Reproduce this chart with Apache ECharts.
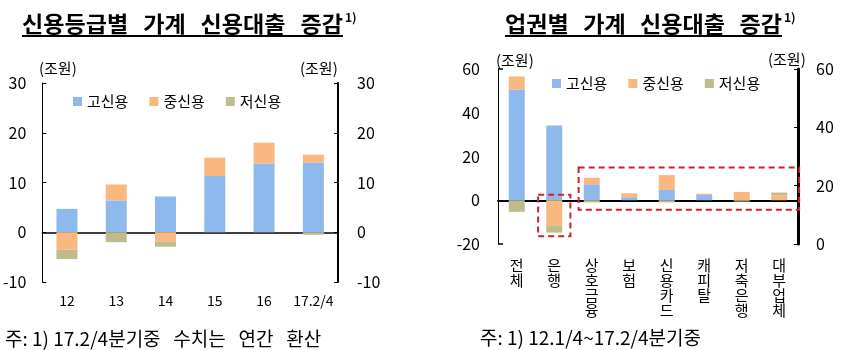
<!DOCTYPE html>
<html>
<head>
<meta charset="utf-8">
<script src="https://cdn.jsdelivr.net/npm/echarts@6/dist/echarts.min.js"></script>
<style>
  html, body { margin: 0; padding: 0; background: #fff; }
  #chart { width: 843px; height: 350px; }
</style>
</head>
<body>
<div id="chart"></div>
<script>
// Left panel: household credit loans by credit grade (trillion won)
const years = ['12', '13', '14', '15', '16', '17.2/4'];
const highByYear = [4.7, 6.4, 7.2, 11.3, 13.8, 14.0];
const midByYear = [-3.5, 3.2, -1.9, 3.7, 4.2, 1.6];
const lowByYear = [-1.9, -2.0, -1.0, 0, 0, -0.5];

// Right panel: household credit loans by financial sector (trillion won)
const sectors = ['전체', '은행', '상호금융', '보험', '신용카드', '캐피탈', '저축은행', '대부업체'];
const highBySector = [50.6, 34.2, 7.3, 1.4, 4.7, 2.4, 0, 0];
const midBySector = [6.0, -11.8, 3.0, 1.8, 6.8, 0.6, 3.8, 2.3];
const lowBySector = [-5.3, -3.0, -1.0, 0, -1.0, 0, -0.6, 1.2];

const seriesNames = ['고신용', '중신용', '저신용'];

// Dashed highlight frames on the right panel: category span and value span
const frameSectors = [['은행', '은행'], ['상호금융', '대부업체']];
const frameValues = [[2.5, -16.5], [15, -4.3]];

const FONT = '"Noto Sans CJK KR", "Noto Sans", sans-serif';
const COLORS = ['#8DB9EC', '#F8B880', '#BEBC8C'];

const chart = echarts.init(document.getElementById('chart'), null, { renderer: 'canvas' });

function valueAxis(grid, pos, min, max, step, lineW, tickOn, labelMargin) {
  return {
    type: 'value', gridIndex: grid, position: pos, min: min, max: max, interval: step,
    axisLine: { show: true, lineStyle: { color: '#000', width: lineW } },
    axisTick: { show: tickOn, inside: true, length: 4, lineStyle: { color: '#000', width: 1 } },
    axisLabel: { fontSize: 16, color: '#000', fontFamily: FONT, margin: labelMargin },
    splitLine: { show: false }
  };
}

function barSeries(name, data, xi, yi, stack, width, color) {
  return {
    type: 'bar', name: name, data: data, xAxisIndex: xi, yAxisIndex: yi,
    stack: stack, barWidth: width, itemStyle: { color: color }, silent: true
  };
}

function legend(left, top, gap) {
  return {
    left: left, top: top, padding: 0, itemGap: gap, itemWidth: 9, itemHeight: 9,
    icon: 'rect', data: seriesNames, selectedMode: false,
    textStyle: { fontSize: 15, color: '#000', fontFamily: FONT }
  };
}

const option = {
  backgroundColor: '#fff',
  animation: false,
  grid: [
    { left: 38, top: 83, width: 300, height: 199 },
    { left: 498, top: 69, width: 300, height: 175 }
  ],
  legend: [legend(73, 94, 21), legend(552, 76, 21)],
  xAxis: [
    { type: 'category', gridIndex: 0, data: years, position: 'bottom',
      axisLine: { show: false, onZero: false }, axisTick: { show: false },
      axisLabel: { interval: 0, fontSize: 14, color: '#000', fontFamily: FONT, margin: 12 } },
    { type: 'category', gridIndex: 1, data: sectors, position: 'bottom',
      axisLine: { show: false, onZero: false }, axisTick: { show: false },
      axisLabel: { interval: 0, fontSize: 15, color: '#000', fontFamily: FONT, margin: 14, lineHeight: 15,
        formatter: v => v.split('').join('\n') } },
    // zero baselines
    { type: 'category', gridIndex: 0, data: years, position: 'top',
      axisLine: { show: true, onZero: true, onZeroAxisIndex: 0, lineStyle: { color: '#000', width: 1.5 } },
      axisTick: { show: false }, axisLabel: { show: false } },
    { type: 'category', gridIndex: 1, data: sectors, position: 'top',
      axisLine: { show: true, onZero: true, onZeroAxisIndex: 2, lineStyle: { color: '#000', width: 2 } },
      axisTick: { show: false }, axisLabel: { show: false } }
  ],
  yAxis: [
    valueAxis(0, 'left', -10, 30, 10, 1, true, 16),
    valueAxis(0, 'right', -10, 30, 10, 2, true, 19),
    valueAxis(1, 'left', -20, 60, 20, 1, false, 18),
    valueAxis(1, 'right', 0, 60, 20, 3, true, 18),
    // end ticks of the right panel's left axis
    { type: 'value', gridIndex: 1, position: 'left', min: -20, max: 60, interval: 80,
      axisLine: { show: false }, axisLabel: { show: false }, splitLine: { show: false },
      axisTick: { show: true, inside: true, length: 5, lineStyle: { color: '#000', width: 1.5 } } }
  ],
  series: [
    barSeries(seriesNames[0], highByYear, 0, 0, 'grade', 21, COLORS[0]),
    barSeries(seriesNames[1], midByYear, 0, 0, 'grade', 21, COLORS[1]),
    barSeries(seriesNames[2], lowByYear, 0, 0, 'grade', 21, COLORS[2]),
    barSeries(seriesNames[0], highBySector, 1, 2, 'sector', 16, COLORS[0]),
    barSeries(seriesNames[1], midBySector, 1, 2, 'sector', 16, COLORS[1]),
    barSeries(seriesNames[2], lowBySector, 1, 2, 'sector', 16, COLORS[2])
  ]
};

chart.setOption(option);

function textWidth(str, font) {
  const ctx = document.createElement('canvas').getContext('2d');
  ctx.font = font;
  return ctx.measureText(str).width;
}

const TITLE_FONT = 'bold 22px ' + FONT;
const TITLE_STRETCH = 1.05;
const SUP_FONT = 'bold 12px ' + FONT;
const UNIT_FONT = '15px ' + FONT;
const NOTE_FONT = '19px ' + FONT;

// Underlined title: bold words spread across the given width, then a "1)" note mark
function titleGroup(x, y, words, totalWidth) {
  const widths = words.map(w => textWidth(w, TITLE_FONT) * TITLE_STRETCH);
  const gap = (totalWidth - widths.reduce((a, b) => a + b, 0)) / (words.length - 1);
  const els = [];
  let cx = x;
  words.forEach((w, i) => {
    els.push({ type: 'text', x: cx, y: y, scaleX: TITLE_STRETCH, silent: true,
      style: { text: w, font: TITLE_FONT, fill: '#000', verticalAlign: 'middle' } });
    cx += widths[i] + gap;
  });
  els.push({ type: 'line', silent: true,
    shape: { x1: x, y1: y + 12, x2: x + totalWidth, y2: y + 12 },
    style: { stroke: '#000', lineWidth: 2 } });
  els.push({ type: 'text', x: x + totalWidth + 2, y: y - 7, silent: true,
    style: { text: '1)', font: SUP_FONT, fill: '#000', verticalAlign: 'middle' } });
  return els;
}

function unitText(x, y) {
  return { type: 'text', x: x, y: y, silent: true,
    style: { text: '(조원)', font: UNIT_FONT, fill: '#000', verticalAlign: 'middle' } };
}

function noteText(x, y, str) {
  return { type: 'text', x: x, y: y, silent: true,
    style: { text: str, font: NOTE_FONT, fill: '#000', verticalAlign: 'middle' } };
}

// Dashed frames placed through the right panel's axes
function frames() {
  const band = chart.convertToPixel({ xAxisIndex: 1 }, sectors[1]) - chart.convertToPixel({ xAxisIndex: 1 }, sectors[0]);
  const pads = [[0.43, 0.43], [0.35, 0.53]];
  return frameSectors.map((pair, i) => {
    const x0 = chart.convertToPixel({ xAxisIndex: 1 }, pair[0]) - pads[i][0] * band;
    const x1 = chart.convertToPixel({ xAxisIndex: 1 }, pair[1]) + pads[i][1] * band;
    const y0 = chart.convertToPixel({ yAxisIndex: 2 }, frameValues[i][0]);
    const y1 = chart.convertToPixel({ yAxisIndex: 2 }, frameValues[i][1]);
    return { type: 'rect', silent: true, z: 100,
      shape: { x: x0, y: y0, width: x1 - x0, height: y1 - y0 },
      style: { fill: 'none', stroke: '#D21F2B', lineWidth: 2, lineDash: [6, 4] } };
  });
}

chart.setOption({
  graphic: [].concat(
    titleGroup(22, 24, ['신용등급별', '가계', '신용대출', '증감'], 321),
    titleGroup(505, 24, ['업권별', '가계', '신용대출', '증감'], 277),
    [unitText(39, 68), unitText(300, 68), unitText(496, 60), unitText(768, 59)],
    [noteText(5, 339, '주: 1) 17.2/4분기중   수치는   연간   환산'),
     noteText(480, 338, '주: 1) 12.1/4~17.2/4분기중')],
    frames()
  )
});
</script>
</body>
</html>
